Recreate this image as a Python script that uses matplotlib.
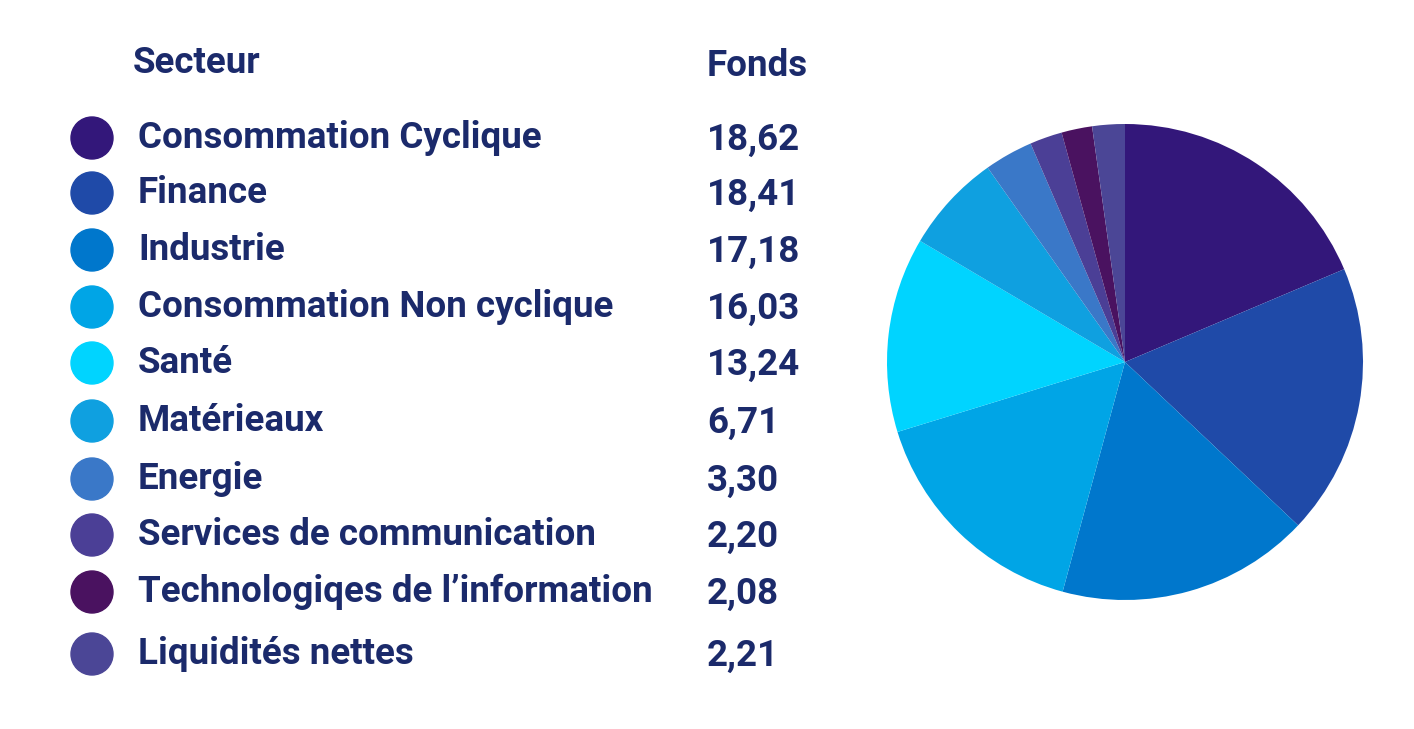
import matplotlib
matplotlib.use("Agg")
import matplotlib.pyplot as plt
from matplotlib.patches import Circle

categories = ["Consommation Cyclique", "Finance", "Industrie", "Consommation Non cyclique",
              "Santé", "Matérieaux", "Energie", "Services de communication",
              "Technologiqes de l’information", "Liquidités nettes"]
values = [18.62, 18.41, 17.18, 16.03, 13.24, 6.71, 3.30, 2.20, 2.08, 2.21]
labels = ["18,62", "18,41", "17,18", "16,03", "13,24", "6,71", "3,30", "2,20", "2,08", "2,21"]
colors = ["#33177A", "#1F4AA8", "#0077CC", "#00A5E6", "#00D4FF", "#0FA0E0",
          "#3A78C8", "#4B3F96", "#4A1260", "#4B4696"]
row_y = [138, 193, 250, 307, 363, 421, 479, 535, 592, 654]

W, H = 1414, 729
fig = plt.figure(figsize=(W/100, H/100), dpi=100)
ax = fig.add_axes([0, 0, 1, 1])
ax.set_xlim(0, W); ax.set_ylim(H, 0); ax.axis("off")
ax.set_aspect("equal")
navy = "#1B2A6B"
font = "Roboto"
fs = 26.5
ax.text(133, 63, "Secteur", fontsize=fs, fontweight="bold", color=navy, family=font, va="center")
ax.text(707, 66, "Fonds", fontsize=fs, fontweight="bold", color=navy, family=font, va="center")
for c, v, l, col, y in zip(categories, values, labels, colors, row_y):
    ax.add_patch(Circle((92, y), 21, color=col))
    ax.text(138, y, c, fontsize=fs, fontweight="bold", color=navy, family=font, va="center")
    ax.text(707, y + 2, l, fontsize=fs, fontweight="bold", color=navy, family=font, va="center")

ax.pie(values, colors=colors, center=(1125, 362), radius=238, startangle=-90,
       counterclock=True, frame=True)
ax.set_xlim(0, W); ax.set_ylim(H, 0); ax.axis("off")
fig.savefig("out.png", dpi=100)
